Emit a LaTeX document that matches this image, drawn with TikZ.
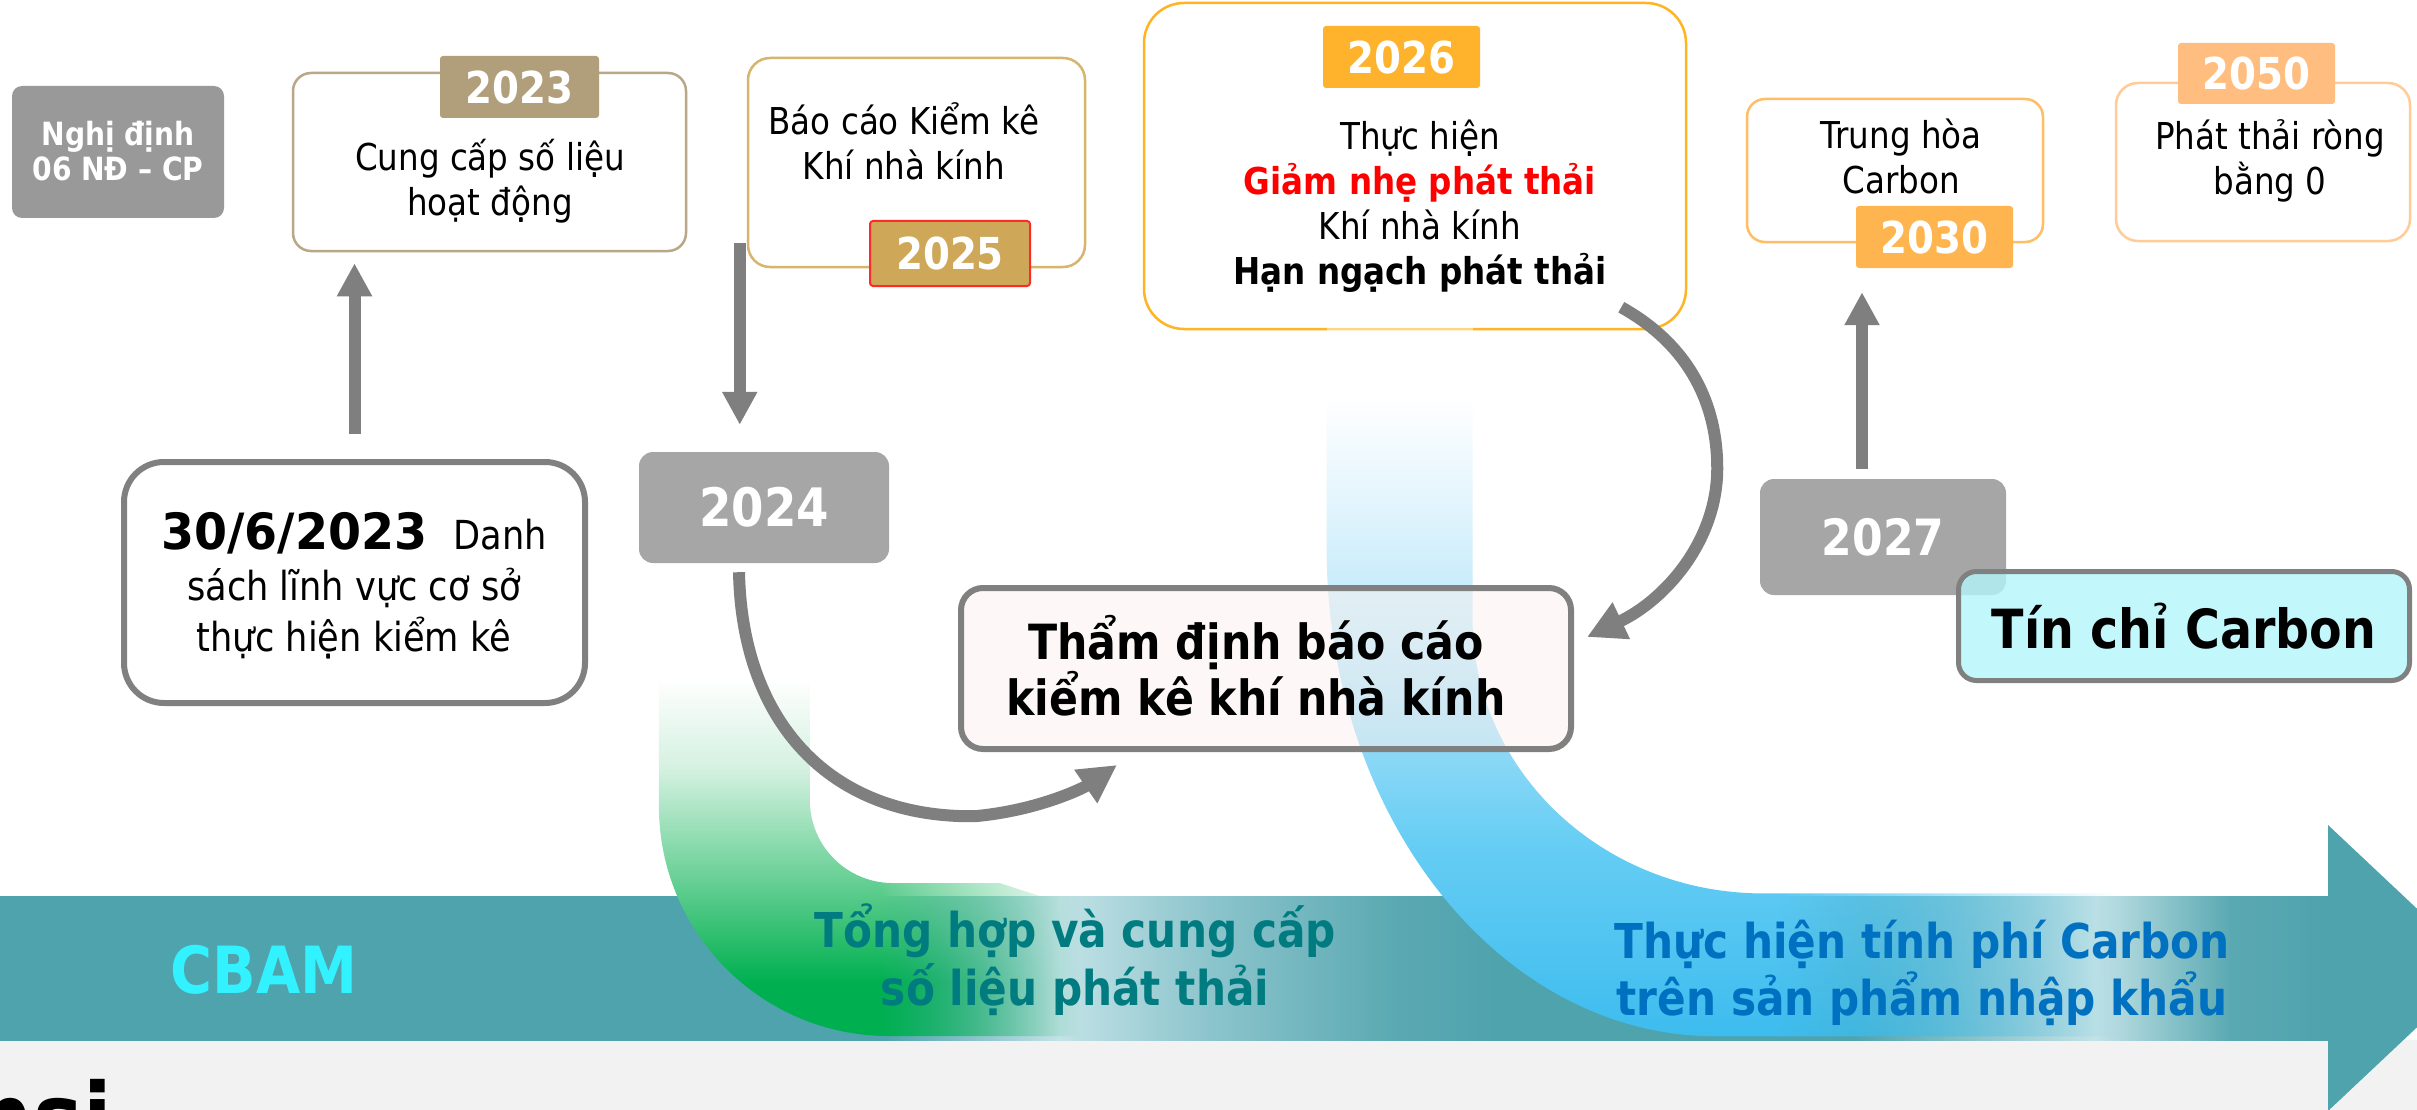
\documentclass[tikz,border=0pt]{standalone}
\usepackage{fontspec}
\setmainfont{DejaVu Sans}[FakeStretch=0.88]
\newfontfamily\numfont{DejaVu Sans}[FakeStretch=0.95]
\usetikzlibrary{arrows.meta,fadings,calc}
\newcommand\myfs[2]{\fontsize{#1pt}{#2pt}\selectfont}
\definecolor{cGrayBox}{HTML}{A6A6A6}
\definecolor{cNghi}{HTML}{999999}
\definecolor{cArrow}{HTML}{7F7F7F}
\definecolor{cBorder}{HTML}{808080}
\definecolor{c2023}{HTML}{B19F7B}
\definecolor{c2023b}{HTML}{B9A788}
\definecolor{cBaoB}{HTML}{D7B56D}
\definecolor{c2025}{HTML}{CEA858}
\definecolor{c2025b}{HTML}{FF2B2B}
\definecolor{c2026}{HTML}{FFB22B}
\definecolor{c2026b}{HTML}{FFB423}
\definecolor{c2030}{HTML}{FFB54F}
\definecolor{c2030b}{HTML}{FFBE66}
\definecolor{c2050}{HTML}{FFBE80}
\definecolor{c2050b}{HTML}{FFCC98}
\definecolor{cTham}{HTML}{FDF2F0}
\definecolor{cTin}{HTML}{B3F6FB}
\definecolor{cTeal}{HTML}{4FA3AD}
\definecolor{cLight}{HTML}{C2E2E6}
\definecolor{cMid}{HTML}{8CC4CC}
\definecolor{cMid2}{HTML}{5AA9B2}
\definecolor{cGrayBg}{HTML}{F2F2F2}
\definecolor{cCBAM}{HTML}{33F2FF}
\definecolor{cTong}{HTML}{007B80}
\definecolor{cThuc}{HTML}{0070C0}
\definecolor{cRed}{HTML}{FF0000}
\definecolor{cGa}{HTML}{00B050}
\definecolor{cGb}{HTML}{6CD198}
\definecolor{cGc}{HTML}{D5F1E1}
\definecolor{cBa}{HTML}{3DBCEE}
\definecolor{cBb}{HTML}{66CDF4}
\definecolor{cBc}{HTML}{B5E5F9}
\definecolor{cBd}{HTML}{E6F6FD}
% TikZ stretches 25bp..75bp of a shading/fading over the path's bounding box
\pgfdeclareverticalshading{gshade}{100bp}{color(0bp)=(cGa); color(32.5bp)=(cGa); color(47.5bp)=(cGb); color(62.5bp)=(cGc); color(75bp)=(white); color(100bp)=(white)}
\pgfdeclareverticalshading{bshade}{100bp}{color(0bp)=(cBa); color(25bp)=(cBa); color(40bp)=(cBb); color(55bp)=(cBc); color(67.5bp)=(cBd); color(75bp)=(white); color(100bp)=(white)}
\pgfdeclarehorizontalshading{barshade}{100bp}{color(0bp)=(cTeal); color(44bp)=(cTeal); color(47.75bp)=(cLight); color(51bp)=(cMid); color(55bp)=(cMid2); color(57.2bp)=(cTeal); color(64.75bp)=(cTeal); color(70bp)=(cLight); color(72.9bp)=(cMid2); color(75bp)=(cTeal); color(100bp)=(cTeal)}
\pgfdeclarehorizontalshading{gfadeshade}{100bp}{color(0bp)=(white); color(50bp)=(white); color(61.4bp)=(black!50); color(72.5bp)=(black); color(100bp)=(black)}
\pgfdeclarefading{gfade}{\pgfuseshading{gfadeshade}}
\pgfdeclarehorizontalshading{bfadeshade}{100bp}{color(0bp)=(white); color(47.6bp)=(white); color(56bp)=(black!50); color(64.5bp)=(black); color(100bp)=(black)}
\pgfdeclarefading{bfade}{\pgfuseshading{bfadeshade}}
\begin{document}
\begin{tikzpicture}[x=1pt,y=-1pt,
  obox/.style={draw, line width=2.5pt, inner sep=0pt},
  tag/.style={rectangle, rounded corners=3pt, text=white, font=\bfseries\myfs{44}{50}, inner sep=0pt},
  txt/.style={align=center, inner sep=0pt, font=\myfs{37}{45}},
  gbox/.style={fill=cGrayBox, rounded corners=14pt, text=white, font=\bfseries\myfs{50}{50}, inner sep=0pt},
  sarr/.style={draw=cArrow, line width=12pt, -{Triangle[length=33pt,width=33pt]}},
  carr/.style={draw=cArrow, line width=12pt, -{Triangle[length=38pt,width=38pt]}}]
\useasboundingbox (0,0) rectangle (2417,1110);
\clip (0,0) rectangle (2417,1110);
\fill[white] (0,0) rectangle (2417,1110);
% bottom band and CBAM bar
\fill[cGrayBg] (0,1040) rectangle (2417,1110);
\shade[shading=barshade] (0,896) rectangle (2328,1040);
\fill[cTeal] (2328,825) -- (2480,968) -- (2328,1111) -- cycle;
% green swoosh
\shade[shading=gshade, path fading=gfade] (659,678) -- (659,806) .. controls (659,933) and (762,1036) .. (889,1036) -- (1100,1036) -- (1100,896) -- (1040,896) -- (1000,883) -- (893,883) .. controls (847,883) and (810,846) .. (810,800) -- (810,678) -- cycle;
% blue swoosh
\shade[shading=bshade, path fading=bfade] (1327,395) -- (1327,548) .. controls (1327,817) and (1501,1036) .. (1716,1036) -- (2328,1036) -- (2328,893) -- (1764,893) .. controls (1603,893) and (1473,770) .. (1473,618) -- (1473,395) -- cycle;
% title fragment cut by the lower edge
\node[anchor=base east, inner sep=0pt, font=\bfseries\myfs{95}{95}] (hsi) at (112,1151) {hsi};
% bar texts
\node[anchor=base, font=\bfseries\myfs{65}{65}, text=cCBAM, inner sep=0pt] (cbam) at (264,993) {CBAM};
\node[txt, font=\bfseries\myfs{48}{58}, text=cTong] (tong) at (1075,960) {Tổng hợp và cung cấp\\số liệu phát thải};
\node[txt, font=\bfseries\myfs{48}{57}, text=cThuc] (thuc) at (1922,972.5) {Thực hiện tính phí Carbon\\trên sản phẩm nhập khẩu};
% top row
\node[fill=cNghi, rounded corners=10pt, minimum width=212pt, minimum height=132pt, inner sep=0pt] (nghi) at (118,152) {};
\node[txt, text=white, font=\bfseries\myfs{32}{35}] (xnghi) at (118,151) {Nghị định\\06 NĐ – CP};
\node[obox, draw=c2023b, minimum width=393pt, minimum height=178pt, rounded corners=18pt] (b2023) at (489.5,162) {};
\node[tag, fill=c2023, minimum width=159pt, minimum height=62pt] (t2023) at (519.5,87) {2023};
\node[txt] (x2023) at (490,181.5) {Cung cấp số liệu\\hoạt động};
\node[obox, draw=cBaoB, minimum width=337pt, minimum height=209pt, rounded corners=22pt] (bbc) at (916.5,162.5) {};
\node[tag, fill=c2025, draw=c2025b, line width=2pt, minimum width=160pt, minimum height=65pt] (t2025) at (950,253.5) {2025};
\node[txt] (xbbc) at (904,141) {Báo cáo Kiểm kê\\Khí nhà kính};
\node[obox, draw=c2026b, minimum width=542pt, minimum height=326pt, rounded corners=40pt] (b2026) at (1415,166) {};
\fill[white, fill opacity=0.45] (1327,318) rectangle (1473,340);
\node[tag, fill=c2026, minimum width=157pt, minimum height=62pt] (t2026) at (1401.5,57) {2026};
\node[txt] (x2026) at (1420,206) {Thực hiện\\\textcolor{cRed}{\bfseries Giảm nhẹ phát thải}\\Khí nhà kính\\\textbf{Hạn ngạch phát thải}};
\node[obox, draw=c2030b, minimum width=296pt, minimum height=143pt, rounded corners=18pt] (b2030) at (1895,170.5) {};
\node[tag, fill=c2030, minimum width=157pt, minimum height=62pt] (t2030) at (1934.5,237) {2030};
\node[txt] (x2030) at (1901,156.5) {Trung hòa\\Carbon};
\node[obox, draw=c2050b, minimum width=294pt, minimum height=158pt, rounded corners=22pt] (b2050) at (2263,162) {};
\node[tag, fill=c2050, minimum width=157pt, minimum height=61pt] (t2050) at (2256.5,73.5) {2050};
\node[txt] (x2050) at (2270,160.5) {Phát thải ròng\\bằng 0};
% middle row
\node[draw=cBorder, line width=6pt, fill=white, rounded corners=40pt, minimum width=461pt, minimum height=241pt, inner sep=0pt] (d306) at (354.5,582.5) {};
\node[txt, font=\myfs{40}{51}] (x306) at (354,586) {{\numfont\bfseries\myfs{50}{51}30/6/2023}\hspace{26pt}Danh\\sách lĩnh vực cơ sở\\thực hiện kiểm kê};
\node[gbox, font=\bfseries\myfs{53}{53}, minimum width=250pt, minimum height=111pt] (y2024) at (764,507.5) {2024};
\node[draw=cBorder, line width=6pt, fill=cTham, fill opacity=0.5, rounded corners=22pt, minimum width=610pt, minimum height=161pt, inner sep=0pt] (tham) at (1266,668.5) {};
\node[txt, font=\bfseries\myfs{48.5}{56}] (xtham) at (1256,666) {Thẩm định báo cáo\\kiểm kê khí nhà kính};
\node[gbox, minimum width=246pt, minimum height=116pt] (y2027) at (1883,537) {2027};
\node[draw=cBorder, line width=5pt, fill=cTin, fill opacity=0.8, text opacity=1, rounded corners=18pt, minimum width=451pt, minimum height=109pt, inner sep=0pt, font=\bfseries\myfs{54}{54}] (tin) at (2184,626) {Tín chỉ Carbon};
% connectors
\draw[sarr] ($(d306.north)+(0,-25)$) -- ($(d306.north |- b2023.south)+(0,11)$);
\coordinate (dA) at ($(bbc.south west)+(-7,-25)$);
\draw[sarr] (dA) -- ($(dA |- y2024.north)+(0,-27)$);
\coordinate (uB) at ($(y2027.north)+(-21,-10)$);
\draw[sarr] (uB) -- ($(uB |- t2030.south)+(0,24)$);
\coordinate (cA) at ($(y2024.south)+(-25,9)$);
\coordinate (cAe) at ($(tham.south west)+(159,13)$);
\draw[carr] (cA) .. controls ($(cA)+(3,150)$) and ($(cA)+(91,246)$) .. ($(cA)+(236,244)$) .. controls ($(cA)+(301,238)$) and ($(cAe)+(-32,22)$) .. (cAe);
\coordinate (cB) at ($(b2026.south east)+(-66,-23)$);
\coordinate (cBe) at ($(tham.east)+(13,-31.5)$);
\draw[carr] (cB) .. controls ($(cB)+(70,39)$) and ($(cB)+(96,99)$) .. ($(cB)+(96,161)$) .. controls ($(cB)+(96,234)$) and ($(cBe)+(78,-37)$) .. (cBe);
\end{tikzpicture}
\end{document}
